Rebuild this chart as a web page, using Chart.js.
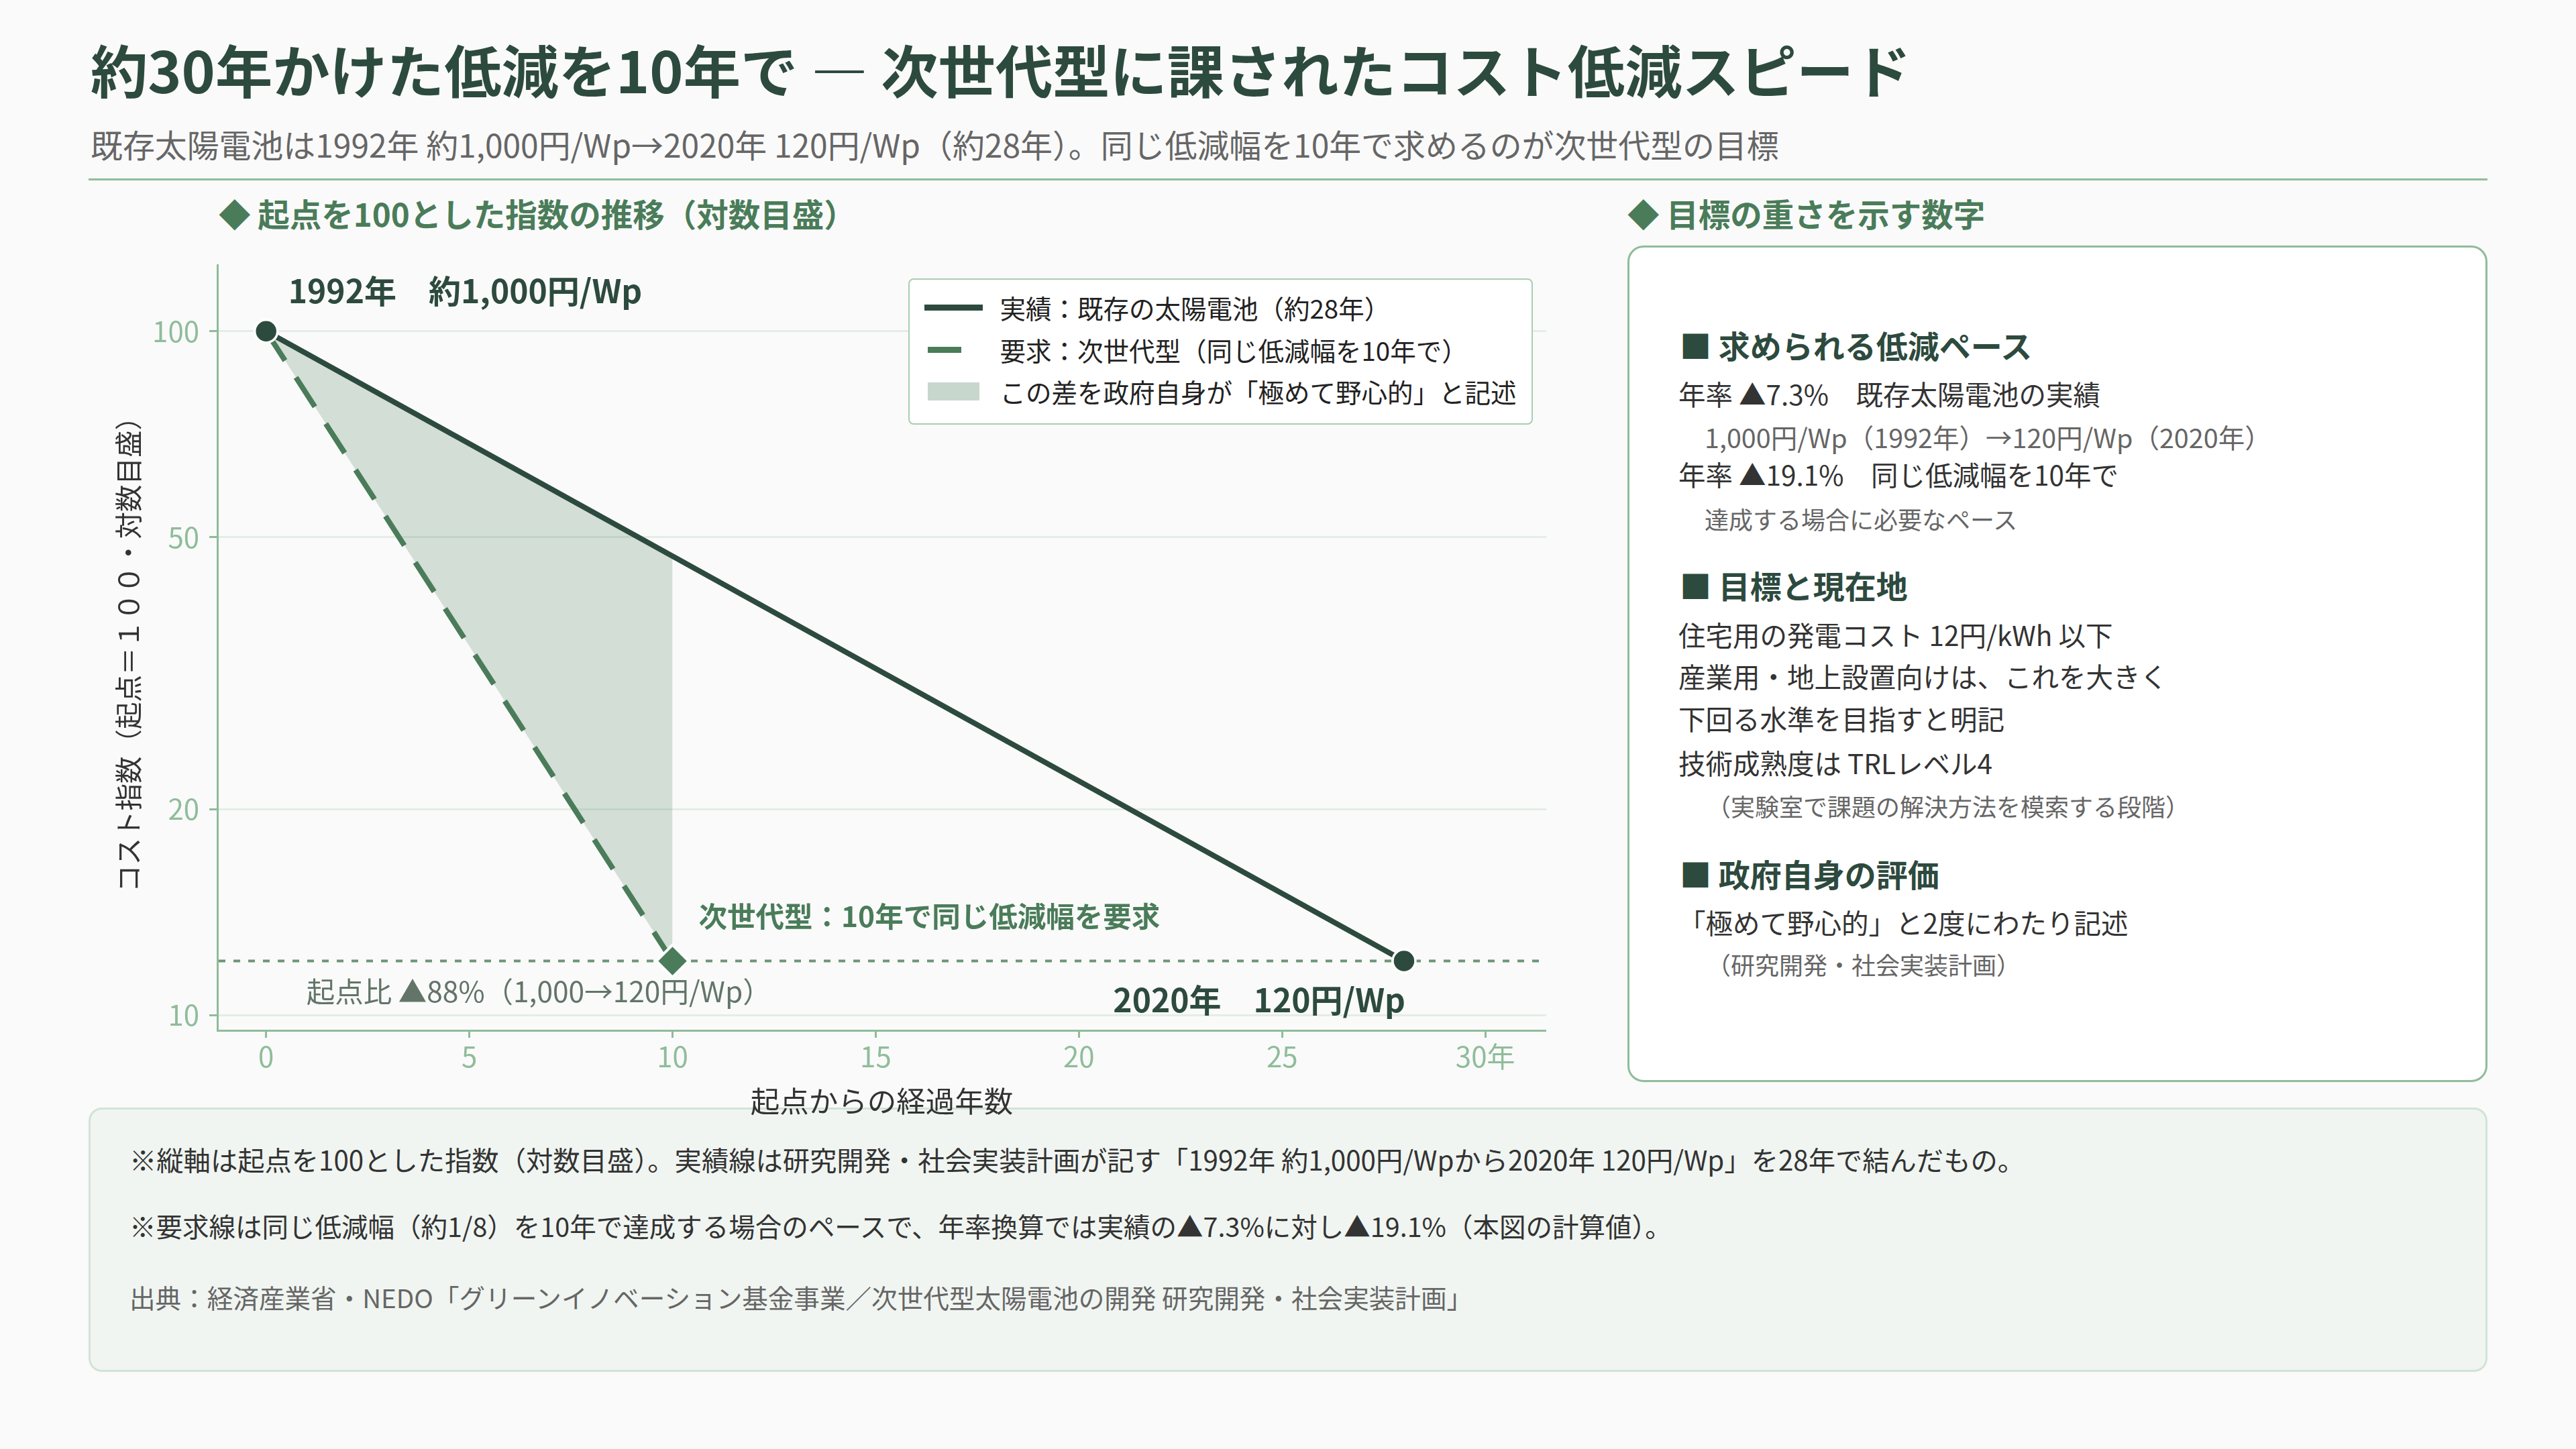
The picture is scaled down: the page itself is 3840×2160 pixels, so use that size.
<!DOCTYPE html>
<html lang="ja">
<head>
<meta charset="utf-8">
<script src="https://cdn.jsdelivr.net/npm/chart.js@4.4.1/dist/chart.umd.min.js"></script>
<style>
html,body{margin:0;padding:0;background:#fafafa;}
body{width:3840px;height:2160px;position:relative;overflow:hidden;font-family:"Noto Sans CJK JP","Noto Sans",sans-serif;}
.t{position:absolute;white-space:nowrap;line-height:1.2;}
.b{font-weight:700;}
#card{position:absolute;left:2426px;top:366px;width:1282px;height:1247px;box-sizing:border-box;border:3px solid #8fbc9a;border-radius:24px;background:#fff;}
#notes{position:absolute;left:132px;top:1651px;width:3576px;height:394px;box-sizing:border-box;border:3px solid #d3e3d6;border-radius:20px;background:#f0f5f1;}
#legend{position:absolute;left:1354px;top:415px;width:931px;height:218px;box-sizing:border-box;border:2.5px solid #a9cdb2;border-radius:8px;background:#fff;}
#chartWrap{position:absolute;left:140px;top:380px;width:2165px;height:1288px;}
</style>
</head>
<body>
<div class="t b" style="left:135px;top:51px;font-size:85.3px;color:#2d4a3e;">約30年かけた低減を10年で — 次世代型に課されたコスト低減スピード</div>
<div class="t" style="left:135px;top:186px;font-size:47.9px;color:#666;">既存太陽電池は1992年 約1,000円/Wp→2020年 120円/Wp（約28年）。同じ低減幅を10年で求めるのが次世代型の目標</div>
<div style="position:absolute;left:132px;top:266px;width:3576px;height:3px;background:#8fbc9a;"></div>

<div class="t b" style="left:326px;top:288.5px;font-size:47.5px;color:#4a7c59;">◆ 起点を100とした指数の推移（対数目盛）</div>
<div class="t b" style="left:2426px;top:288.5px;font-size:47.5px;color:#4a7c59;">◆ 目標の重さを示す数字</div>

<div id="card"></div>
<div id="cardText"></div>

<div id="notes"></div>
<div class="t" style="left:193px;top:1703.8px;font-size:40.3px;color:#333;">※縦軸は起点を100とした指数（対数目盛）。実績線は研究開発・社会実装計画が記す「1992年 約1,000円/Wpから2020年 120円/Wp」を28年で結んだもの。</div>
<div class="t" style="left:193px;top:1803.3px;font-size:39.5px;color:#333;">※要求線は同じ低減幅（約1/8）を10年で達成する場合のペースで、年率換算では実績の▲7.3%に対し▲19.1%（本図の計算値）。</div>
<div class="t" style="left:193px;top:1909.8px;font-size:38.6px;color:#666;">出典：経済産業省・NEDO「グリーンイノベーション基金事業／次世代型太陽電池の開発 研究開発・社会実装計画」</div>

<div id="chartWrap"><canvas id="c" width="2165" height="1288" style="width:2165px;height:1288px;"></canvas></div>
<div id="legend"></div>

<script>
// ---- data ----
const YEARS_ACTUAL = [0, 28];
const INDEX_ACTUAL = [100, 12];
const YEARS_REQUIRED = [0, 10];
const INDEX_REQUIRED = [100, 12];
const X_TICKS = [0, 5, 10, 15, 20, 25, 30];
const Y_TICKS = [10, 20, 50, 100];
const SERIES_LABELS = ['実績：既存の太陽電池（約28年）', '要求：次世代型（同じ低減幅を10年で）', 'この差を政府自身が「極めて野心的」と記述'];
const LABEL_START = '1992年　約1,000円/Wp';
const LABEL_END = '2020年　120円/Wp';
const LABEL_REQ = '次世代型：10年で同じ低減幅を要求';
const LABEL_DROP = '起点比 ▲88%（1,000→120円/Wp）';

const CARD_LINES = [
  ['h', '■ 求められる低減ペース', 514],
  ['p', '年率 ▲7.3%　既存太陽電池の実績', 587],
  ['s1', '1,000円/Wp（1992年）→120円/Wp（2020年）', 651],
  ['p', '年率 ▲19.1%　同じ低減幅を10年で', 707],
  ['s', '達成する場合に必要なペース', 774],
  ['h', '■ 目標と現在地', 872],
  ['p', '住宅用の発電コスト 12円/kWh 以下', 946],
  ['p', '産業用・地上設置向けは、これを大きく', 1008],
  ['p', '下回る水準を目指すと明記', 1071],
  ['p', '技術成熟度は TRLレベル4', 1137],
  ['s2', '（実験室で課題の解決方法を模索する段階）', 1202],
  ['h', '■ 政府自身の評価', 1302],
  ['p', '「極めて野心的」と2度にわたり記述', 1375],
  ['s2', '（研究開発・社会実装計画）', 1438]
];

const DARK = '#2d4a3e', GREEN = '#4a7c59', AXIS = '#8fbc9a';
const FILL = 'rgba(74,124,89,0.22)';
const FONT = '"Noto Sans CJK JP", "Noto Sans", sans-serif';

// card text
const ct = document.getElementById('cardText');
CARD_LINES.forEach(([k, txt, cy]) => {
  const d = document.createElement('div');
  d.className = 't';
  let fs = 40.5, x = 2502, col = '#333', w = 400;
  if (k === 'h') { fs = 47; x = 2504; col = DARK; w = 700; }
  if (k === 's1') { fs = 39.5; x = 2541; col = '#666'; }
  if (k === 's') { fs = 36; x = 2541; col = '#666'; }
  if (k === 's2') { fs = 36; x = 2544; col = '#666'; }
  d.style.cssText = `left:${x}px;top:${cy - fs * 0.6}px;font-size:${fs}px;color:${col};font-weight:${w};`;
  d.textContent = txt;
  ct.appendChild(d);
});

// legend (built from the series labels / colours)
const lg = document.getElementById('legend');
const swatches = [
  `left:21.5px;width:87px;height:9px;background:${DARK};`,
  `left:26.5px;width:50px;height:9px;background:${GREEN};`,
  `left:26.5px;width:77px;height:27px;background:rgba(74,124,89,0.3);`
];
const rowsY = [41.5, 104.5, 166.5];
SERIES_LABELS.forEach((lab, i) => {
  const sw = document.createElement('div');
  const h = i === 2 ? 27 : 9;
  sw.style.cssText = `position:absolute;top:${rowsY[i] - h / 2}px;` + swatches[i];
  lg.appendChild(sw);
  const tx = document.createElement('div');
  tx.className = 't';
  tx.style.cssText = `left:134.5px;top:${rowsY[i] - 38.5 * 0.6}px;font-size:38.5px;color:#222;`;
  tx.textContent = lab;
  lg.appendChild(tx);
});

const toPts = (xs, ys) => xs.map((x, i) => ({ x, y: ys[i] }));

const annot = {
  id: 'annot',
  beforeDatasetsDraw(chart) {
    const { ctx, chartArea, scales } = chart;
    const y = scales.y.getPixelForValue(INDEX_ACTUAL[INDEX_ACTUAL.length - 1]);
    ctx.save();
    ctx.strokeStyle = 'rgba(74,124,89,0.8)';
    ctx.lineWidth = 4;
    ctx.setLineDash([10, 12]);
    ctx.beginPath();
    ctx.moveTo(chartArea.left + 2, y);
    ctx.lineTo(chartArea.right, y);
    ctx.stroke();
    ctx.restore();
  },
  afterDatasetsDraw(chart) {
    const { ctx, scales } = chart;
    const xs = scales.x, ys = scales.y;
    const p0 = { x: xs.getPixelForValue(YEARS_ACTUAL[0]), y: ys.getPixelForValue(INDEX_ACTUAL[0]) };
    const p1 = { x: xs.getPixelForValue(YEARS_ACTUAL[1]), y: ys.getPixelForValue(INDEX_ACTUAL[1]) };
    const pr = { x: xs.getPixelForValue(YEARS_REQUIRED[1]), y: ys.getPixelForValue(INDEX_REQUIRED[1]) };
    ctx.save();
    ctx.textBaseline = 'middle';
    ctx.textAlign = 'left';
    ctx.fillStyle = DARK;
    ctx.font = `700 48px ${FONT}`;
    ctx.fillText(LABEL_START, p0.x + 33, p0.y - 60);
    ctx.textAlign = 'right';
    ctx.fillText(LABEL_END, p1.x + 2, p1.y + 58);
    ctx.textAlign = 'left';
    ctx.fillStyle = GREEN;
    ctx.font = `700 42.5px ${FONT}`;
    ctx.fillText(LABEL_REQ, pr.x + 39, pr.y - 67);
    ctx.fillStyle = '#627568';
    ctx.font = `400 42.5px ${FONT}`;
    ctx.fillText(LABEL_DROP, p0.x + 60, pr.y + 45);
    ctx.restore();
  }
};

function draw() {
  Chart.defaults.font.family = FONT;
  new Chart(document.getElementById('c'), {
    type: 'line',
    data: {
      datasets: [
        {
          label: SERIES_LABELS[0],
          data: toPts(YEARS_ACTUAL, INDEX_ACTUAL),
          borderColor: DARK, borderWidth: 8, tension: 0,
          pointRadius: 17, pointBorderWidth: 3.5,
          pointBackgroundColor: DARK, pointBorderColor: '#fff',
          fill: false
        },
        {
          label: SERIES_LABELS[1],
          data: toPts(YEARS_REQUIRED, INDEX_REQUIRED),
          borderColor: GREEN, borderWidth: 8, borderDash: [52, 30], tension: 0,
          pointStyle: 'rectRot',
          pointRadius: (c) => (c.dataIndex === 0 ? 0 : 24),
          pointBorderWidth: 4,
          pointBackgroundColor: GREEN, pointBorderColor: '#fff',
          fill: { target: 0 }, backgroundColor: FILL
        }
      ]
    },
    options: {
      responsive: false, animation: false, devicePixelRatio: 1,
      layout: { autoPadding: false, padding: { top: 15, left: 0, right: 0, bottom: 0 } },
      plugins: { legend: { display: false }, tooltip: { enabled: false } },
      scales: {
        x: {
          type: 'linear', min: -1.2, max: 31.5,
          afterBuildTicks: (s) => { s.ticks = X_TICKS.map(v => ({ value: v })); },
          afterFit: (s) => { s.height = 132; s.paddingLeft = 0; s.paddingRight = 0; },
          ticks: {
            color: AXIS, font: { size: 42 }, padding: 3,
            callback: (v) => (v === X_TICKS[X_TICKS.length - 1] ? v + '年' : String(v))
          },
          grid: { drawOnChartArea: false, drawTicks: true, tickLength: 11, tickColor: AXIS, tickWidth: 3 },
          border: { color: AXIS, width: 3 },
          title: { display: true, text: '起点からの経過年数', color: '#333', font: { size: 43.5 }, padding: { top: 0, bottom: 0 } }
        },
        y: {
          type: 'logarithmic', min: 9.5, max: 125,
          afterBuildTicks: (s) => { s.ticks = Y_TICKS.map(v => ({ value: v })); },
          afterFit: (s) => { s.width = 184; s.paddingTop = 0; s.paddingBottom = 0; },
          ticks: { color: AXIS, font: { size: 42 }, padding: 15, callback: (v) => String(v) },
          grid: { color: '#e3ede5', lineWidth: 3, drawTicks: true, tickLength: 12, tickColor: AXIS, tickWidth: 3 },
          border: { color: AXIS, width: 3 },
          title: { display: true, text: 'コスト指数（起点＝１００・対数目盛）', color: '#333', font: { size: 40.5 }, padding: { top: 27, bottom: 0 } }
        }
      }
    },
    plugins: [annot]
  });
}

Promise.all([
  document.fonts.load(`400 40px "Noto Sans CJK JP"`, '起点0'),
  document.fonts.load(`700 40px "Noto Sans CJK JP"`, '起点0')
]).then(draw, draw);
</script>
</body>
</html>
